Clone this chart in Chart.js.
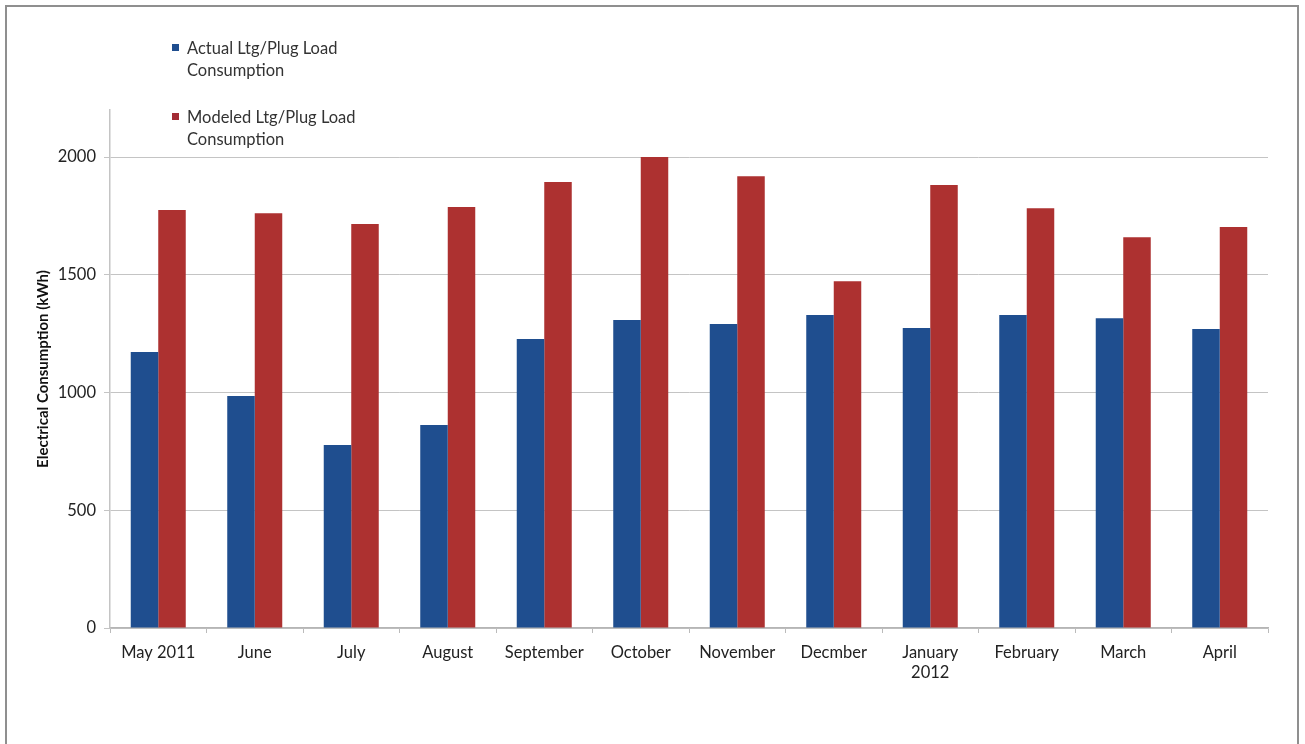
<!DOCTYPE html>
<html>
<head>
<meta charset="utf-8">
<script src="https://cdn.jsdelivr.net/npm/chart.js@4/dist/chart.umd.min.js"></script>
<style>
  html, body { margin: 0; padding: 0; background: #fff; }
  #frame {
    position: absolute; left: 5px; top: 5px; width: 1294px; height: 760px;
    border: 2px solid #8f8f8f; box-sizing: border-box;
  }
  #wrap { position: absolute; left: 0; top: 0; width: 1305px; height: 744px; }
  .legend {
    position: absolute; left: 172px; font-family: Lato, "Open Sans", sans-serif;
    font-size: 16.5px; line-height: 22px; color: #333;
  }
  .legend .box {
    position: absolute; left: 0; top: 7px; width: 7px; height: 7px;
  }
  .legend .txt { margin-left: 15px; }
</style>
</head>
<body>
<div id="frame"></div>
<div id="wrap"><canvas id="chart" width="1305" height="744"></canvas></div>
<div class="legend" style="top:37px"><span class="box" style="background:#1f4e8f"></span><div class="txt">Actual Ltg/Plug Load<br>Consumption</div></div>
<div class="legend" style="top:106px"><span class="box" style="background:#a32c35"></span><div class="txt">Modeled Ltg/Plug Load<br>Consumption</div></div>
<script>
// 月ごとのカテゴリ
const months = [
  "May 2011", "June", "July", "August", "September", "October",
  "November", "Decmber", ["January", "2012"], "February", "March", "April",
];
// 実測値 (kWh)
const actual = [1172, 985, 777, 862, 1227, 1308, 1291, 1329, 1274, 1329, 1316, 1270];
// モデル値 (kWh)
const modeled = [1775, 1762, 1716, 1788, 1894, 2000, 1919, 1473, 1881, 1783, 1660, 1703];
const yTicks = [0, 500, 1000, 1500, 2000];

const font = "Lato, 'Open Sans', sans-serif";

const ctx = document.getElementById("chart").getContext("2d");
const myChart = new Chart(ctx, {
  type: "bar",
  data: {
    labels: months,
    datasets: [
      {
        label: "Actual Ltg/Plug Load Consumption",
        data: actual,
        backgroundColor: "#1f4e8f",
      },
      {
        label: "Modeled Ltg/Plug Load Consumption",
        data: modeled,
        backgroundColor: "#ad3130",
      },
    ],
  },
  options: {
    responsive: false,
    animation: false,
    layout: {
      padding: { left: 34, top: 110, right: 37, bottom: 56 },
    },
    plugins: {
      legend: { display: false },
      tooltip: { enabled: false },
    },
    datasets: {
      bar: { categoryPercentage: 0.57, barPercentage: 1.0 },
    },
    scales: {
      x: {
        grid: {
          offset: true,
          drawOnChartArea: false,
          tickLength: 5,
          color: "#bbbbbb",
        },
        border: { color: "#b5b5b5", width: 1.5 },
        ticks: {
          font: { family: font, size: 16.5 },
          color: "#222",
          maxRotation: 0,
          padding: 10,
        },
        afterFit: (scale) => {
          scale.height = 60;
        },
      },
      y: {
        min: 0,
        max: 2200,
        afterBuildTicks: (scale) => {
          scale.ticks = yTicks.map((v) => ({ value: v }));
        },
        grid: {
          color: "#c4c4c4",
          tickLength: 6,
        },
        border: { color: "#c4c4c4", width: 1.5 },
        ticks: {
          font: { family: font, size: 16.5 },
          color: "#222",
          padding: 8,
          callback: (value) => String(value),
        },
        title: {
          display: true,
          text: "Electrical Consumption (kWh)",
          font: { family: font, size: 15, weight: "bold" },
          color: "#111",
          padding: { top: 0, bottom: 8 },
        },
        afterFit: (scale) => {
          scale.width = 76;
        },
      },
    },
  },
});
</script>
</body>
</html>
